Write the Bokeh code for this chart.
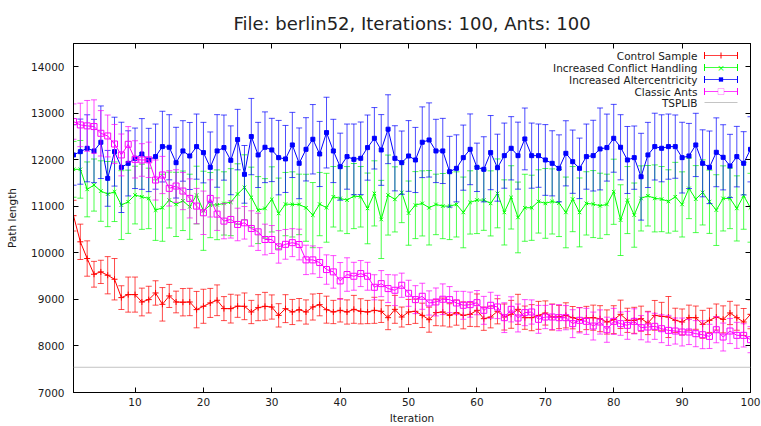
import pandas as pd
from bokeh.plotting import figure
from bokeh.models import (ColumnDataSource, Range1d, LinearAxis, FixedTicker,
                          Label, BoxAnnotation, Span, Whisker, TeeHead)
from bokeh.embed import file_html
from bokeh.resources import INLINE

FONT = "DejaVu Sans"

iterations = list(range(1, 101))

control_sample = [
    10800, 10238, 9879, 9541, 9592, 9520, 9434, 9039, 9104, 9104,
    8945, 8996, 9139, 8895, 9075, 8945, 8940, 8945, 8781, 8853,
    8925, 8982, 8803, 8802, 8855, 8852, 8730, 8823, 8852, 8837,
    8658, 8802, 8730, 8780, 8730, 8837, 8888, 8780, 8730, 8766,
    8730, 8787, 8745, 8730, 8766, 8745, 8608, 8787, 8622, 8730,
    8745, 8658, 8565, 8716, 8730, 8658, 8716, 8658, 8680, 8766,
    8586, 8622, 8745, 8622, 8680, 8787, 8608, 8608, 8658, 8709,
    8622, 8622, 8658, 8608, 8565, 8601, 8608, 8586, 8515, 8565,
    8680, 8551, 8551, 8586, 8494, 8658, 8637, 8622, 8551, 8515,
    8608, 8608, 8465, 8551, 8622, 8572, 8709, 8608, 8515, 8680]
control_sample_err = [
    330, 380, 380, 277, 250, 400, 445, 255, 377, 377,
    298, 287, 262, 360, 248, 233, 294, 294, 391, 366,
    312, 330, 258, 309, 240, 287, 250, 280, 300, 260,
    251, 300, 270, 240, 260, 280, 240, 290, 250, 251,
    260, 300, 270, 250, 280, 240, 258, 300, 215, 270,
    260, 262, 269, 280, 300, 250, 270, 290, 260, 352,
    250, 233, 270, 280, 300, 323, 250, 280, 300, 260,
    280, 250, 270, 240, 260, 250, 270, 280, 260, 300,
    305, 260, 280, 270, 250, 320, 300, 441, 260, 280,
    270, 250, 300, 260, 280, 290, 250, 270, 290, 310]

conflict_handling = [
    11796, 11796, 11365, 11458, 11329, 11264, 11314, 11027, 11099, 11243,
    11206, 11171, 10919, 10970, 11135, 11042, 11120, 10991, 11243, 10905,
    11027, 11034, 11063, 11090, 11265, 11408, 11193, 10920, 10956, 11150,
    10848, 11049, 11042, 11042, 10970, 10812, 11049, 10970, 11206, 11171,
    11135, 11221, 11206, 10956, 11279, 10719, 11243, 11150, 11300, 10855,
    11027, 11064, 10970, 11042, 11006, 11006, 11042, 10870, 11085, 11135,
    11135, 11064, 11279, 10870, 11193, 10762, 10970, 10970, 11106, 11064,
    11106, 11071, 10870, 11156, 10870, 11064, 11049, 11013, 11042, 11314,
    10704, 11135, 10812, 11171, 11228, 11171, 11156, 11106, 11206, 11042,
    11386, 11156, 11300, 11099, 10920, 11171, 11171, 10956, 11228, 10970]
conflict_handling_err = [
    600, 620, 590, 560, 650, 700, 640, 740, 680, 620,
    700, 650, 650, 720, 600, 690, 640, 700, 620, 850,
    700, 750, 680, 720, 650, 700, 650, 720, 640, 700,
    760, 680, 700, 650, 720, 700, 680, 740, 650, 700,
    720, 700, 650, 760, 700, 840, 860, 700, 650, 690,
    720, 700, 800, 650, 700, 720, 700, 760, 680, 720,
    650, 700, 740, 700, 680, 760, 720, 700, 680, 750,
    700, 720, 760, 700, 740, 680, 720, 700, 650, 700,
    760, 720, 690, 700, 650, 720, 700, 680, 740, 700,
    650, 720, 700, 680, 760, 700, 650, 700, 720, 740]

altercentricity = [
    12105, 12176, 12248, 12190, 12378, 11602, 12176, 11838, 11924, 12033,
    12126, 11997, 12069, 12284, 12270, 11939, 12191, 12083, 12284, 12155,
    11839, 12191, 12263, 11990, 12435, 11688, 12500, 12105, 12270, 12212,
    12047, 12019, 12320, 11925, 12226, 12442, 12126, 12585, 12191, 11853,
    12069, 12010, 12033, 12263, 12463, 12212, 12658, 12033, 11939, 12083,
    11997, 12378, 12427, 12191, 12191, 11745, 11817, 12047, 12226, 11839,
    11796, 12155, 11831, 12090, 12248, 12090, 12449, 12090, 12090, 11997,
    11925, 11817, 12140, 11960, 11817, 12069, 12090, 12234, 12263, 12463,
    12270, 11997, 12047, 11637, 12105, 12284, 12248, 12284, 12284, 12047,
    12083, 12320, 11925, 11839, 12162, 12054, 11868, 12069, 11925, 12226]
altercentricity_err = [
    650, 700, 720, 680, 780, 600, 740, 970, 700, 650,
    760, 680, 700, 760, 700, 760, 650, 720, 700, 650,
    760, 780, 700, 740, 650, 620, 820, 700, 760, 680,
    800, 720, 700, 760, 680, 746, 700, 760, 680, 720,
    700, 760, 780, 700, 660, 760, 740, 700, 680, 760,
    700, 760, 797, 680, 700, 760, 720, 700, 760, 520,
    700, 797, 720, 700, 680, 720, 664, 700, 680, 760,
    700, 720, 700, 680, 650, 700, 760, 880, 720, 729,
    700, 720, 680, 933, 700, 718, 720, 700, 680, 760,
    700, 680, 720, 780, 740, 700, 680, 650, 680, 700]

classic_ants = [
    12822, 12750, 12730, 12715, 12570, 12513, 12340, 12105, 12334, 12010,
    11997, 12000, 11566, 11674, 11387, 11437, 11329, 11171, 11006, 10862,
    11171, 10833, 10683, 10719, 10611, 10647, 10525, 10453, 10288, 10288,
    10130, 10184, 10220, 10180, 9850, 9850, 9793, 9642, 9592, 9398,
    9535, 9498, 9556, 9498, 9261, 9340, 9233, 9197, 9305, 9132,
    8996, 9068, 8924, 8946, 9004, 8996, 8924, 8874, 8888, 8931,
    8766, 8874, 8838, 8608, 8787, 8601, 8716, 8730, 8572, 8622,
    8622, 8608, 8608, 8479, 8551, 8529, 8428, 8515, 8349, 8529,
    8479, 8443, 8529, 8393, 8407, 8422, 8371, 8335, 8321, 8300,
    8300, 8264, 8242, 8206, 8349, 8192, 8321, 8228, 8228, 8135]
classic_ants_err = [
    380, 467, 546, 574, 488, 450, 420, 450, 380, 400,
    350, 380, 430, 400, 380, 350, 400, 420, 380, 467,
    400, 350, 380, 400, 350, 350, 380, 400, 330, 300,
    350, 320, 300, 330, 316, 300, 320, 316, 350, 395,
    360, 300, 280, 300, 270, 280, 300, 330, 260, 280,
    300, 280, 260, 300, 330, 280, 250, 300, 270, 260,
    300, 280, 250, 320, 270, 300, 280, 260, 300, 250,
    270, 280, 260, 300, 270, 280, 300, 260, 270, 280,
    250, 300, 270, 260, 323, 280, 300, 323, 280, 300,
    270, 280, 300, 260, 280, 300, 270, 280, 250, 280]

tsplib_optimum = 7542

series_names = ["Control Sample", "Increased Conflict Handling",
                "Increased Altercentricity", "Classic Ants", "TSPLIB"]
x_ticks = [10, 20, 30, 40, 50, 60, 70, 80, 90, 100]
y_ticks = [7000, 8000, 9000, 10000, 11000, 12000, 13000, 14000]


def make_source(mean, err):
    df = pd.DataFrame({"iteration": iterations, "mean": mean, "err": err})
    df["lower"] = df["mean"] - df["err"]
    df["upper"] = df["mean"] + df["err"]
    return ColumnDataSource(df)


W, H = 761, 426
BL, BR, BT, BB = 73, 11, 43, 34

p = figure(width=W, height=H, output_backend="svg", toolbar_location=None,
           x_range=Range1d(1, 100), y_range=Range1d(7000, 14500),
           min_border_left=BL, min_border_right=BR,
           min_border_top=BT, min_border_bottom=BB,
           title="File: berlin52, Iterations: 100, Ants: 100")
p.title.align = "center"
p.title.text_font = FONT
p.title.text_font_size = "18px"
p.title.text_font_style = "normal"
p.title.text_color = "#222222"
p.title.standoff = 20
p.xgrid.visible = False
p.ygrid.visible = False
p.outline_line_color = "black"
p.outline_line_alpha = 1
p.outline_line_width = 1
p.background_fill_color = "white"
p.border_fill_color = "white"


def style_axis(ax, ticks, show_labels=True):
    ax.ticker = FixedTicker(ticks=ticks)
    ax.major_tick_in = 5
    ax.major_tick_out = 0
    ax.minor_tick_line_color = None
    ax.axis_line_color = "black"
    ax.major_tick_line_color = "black"
    ax.major_label_text_font = FONT
    if show_labels:
        ax.major_label_text_font_size = "10.5px"
        ax.major_label_text_color = "#1a1a1a"
    else:
        ax.major_label_text_font_size = "0px"
        ax.major_label_text_color = None
        ax.major_label_standoff = 0


style_axis(p.xaxis[0], x_ticks)
p.xaxis[0].major_label_standoff = 5
p.xaxis[0].axis_label = "Iteration"
p.xaxis[0].axis_label_standoff = 3
style_axis(p.yaxis[0], y_ticks)
p.yaxis[0].major_label_standoff = 9
p.yaxis[0].axis_label = "Path length"
p.yaxis[0].axis_label_standoff = 10
for ax in (p.xaxis[0], p.yaxis[0]):
    ax.axis_label_text_font = FONT
    ax.axis_label_text_font_size = "10.5px"
    ax.axis_label_text_font_style = "normal"
    ax.axis_label_text_color = "#1a1a1a"

top_axis = LinearAxis()
style_axis(top_axis, x_ticks, show_labels=False)
p.add_layout(top_axis, "above")
right_axis = LinearAxis()
style_axis(right_axis, y_ticks, show_labels=False)
p.add_layout(right_axis, "right")

RED, GREEN, BLUE, MAGENTA, GRAY = "#ff0000", "#00ff00", "#0000ff", "#ff00ff", "#c4c4c4"

styles = [
    (control_sample, control_sample_err, RED, "cross", 6, None),
    (conflict_handling, conflict_handling_err, GREEN, "x", 5, None),
    (altercentricity, altercentricity_err, BLUE, "square", 4, BLUE),
    (classic_ants, classic_ants_err, MAGENTA, "square", 6, None),
]

for mean, err, color, marker, size, fill in styles:
    src = make_source(mean, err)
    p.segment(x0="iteration", y0="lower", x1="iteration", y1="upper",
              source=src, line_color=color, line_width=1, line_alpha=0.7)
    p.scatter("iteration", "lower", source=src, marker="dash", size=6,
              line_color=color, line_alpha=0.7)
    p.scatter("iteration", "upper", source=src, marker="dash", size=6,
              line_color=color, line_alpha=0.7)
    p.line("iteration", "mean", source=src, line_color=color, line_width=1)
    p.scatter("iteration", "mean", source=src, marker=marker, size=size,
              line_color=color, fill_color=fill, line_width=1)

p.add_layout(Span(location=tsplib_optimum, dimension="width",
                  line_color=GRAY, line_width=1))

# legend drawn gnuplot-style: right-aligned text, then sample
FW = W - BL - BR
FH = H - BT - BB
row_offsets = [12, 24, 36, 48, 59]
legend_colors = [RED, GREEN, BLUE, MAGENTA, GRAY]
text_x = FW - 53
s0, s1 = FW - 46, FW - 13
sm = (s0 + s1) / 2


def screen_box(l, r, b, t, **kw):
    return BoxAnnotation(left=l, right=r, bottom=b, top=t,
                         left_units="screen", right_units="screen",
                         bottom_units="screen", top_units="screen",
                         level="overlay", **kw)


for i, (name, color) in enumerate(zip(series_names, legend_colors)):
    yy = FH - row_offsets[i]
    p.add_layout(Label(x=text_x, y=yy, x_units="screen", y_units="screen",
                       text=name, text_align="right", text_baseline="middle",
                       text_font=FONT, text_font_size="10.5px",
                       text_color="#1a1a1a"))
    if i < 4:
        head_a = TeeHead(size=7, line_color=color, line_width=1)
        head_b = TeeHead(size=7, line_color=color, line_width=1)
    else:
        head_a = None
        head_b = None
    p.add_layout(Whisker(base=yy, lower=s0, upper=s1, dimension="width",
                         base_units="screen", lower_units="screen",
                         upper_units="screen", line_color=color,
                         line_width=1, line_alpha=0.75 if i < 4 else 1,
                         lower_head=head_a, upper_head=head_b,
                         level="overlay"))
    if i == 0:
        p.add_layout(screen_box(sm - 0.5, sm + 0.5, yy - 3, yy + 3,
                                fill_color=color, fill_alpha=1, line_color=None))
    elif i == 1:
        p.add_layout(Label(x=sm, y=yy, x_units="screen", y_units="screen",
                           text="×", text_align="center",
                           text_baseline="middle", text_font=FONT,
                           text_font_size="9px", text_color=color))
    elif i == 2:
        p.add_layout(screen_box(sm - 2, sm + 2, yy - 2, yy + 2,
                                fill_color=color, fill_alpha=1, line_color=color))
    elif i == 3:
        p.add_layout(screen_box(sm - 3, sm + 3, yy - 3, yy + 3,
                                fill_color="white", fill_alpha=1,
                                line_color=color, line_width=1))

open("out.html", "w").write(file_html(p, INLINE))
